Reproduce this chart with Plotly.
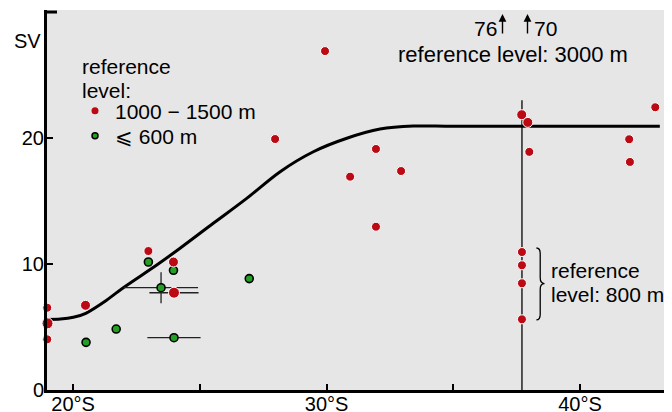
import plotly.graph_objects as go

# ---- data (latitude in deg S, transport in Sv) ----
red_lat = [18.98, 18.99, 18.98, 20.49, 22.97, 23.96, 23.98, 27.97, 29.94, 30.93, 31.95, 31.95,
           32.94, 37.70, 37.94, 38.00, 41.94, 42.97, 41.97, 37.71, 37.71, 37.71, 37.71]
red_sv = [6.53, 5.29, 4.02, 6.72, 11.03, 10.16, 7.72, 19.92, 26.9, 16.93, 19.13, 12.96,
          17.38, 21.85, 21.24, 18.9, 19.9, 22.44, 18.1, 10.95, 9.9, 8.47, 5.61]
red_size = [9, 11, 9, 10, 9, 10, 11, 9, 9, 9, 9, 9, 9, 10, 10, 9, 9, 9, 9, 9, 9, 9, 9]
red_lat_err = [0, 0, 0, 0, 0, 0, 0.97, 0, 0, 0, 0, 0, 0, 0, 0, 0, 0, 0, 0, 0, 0, 0, 0]

green_lat = [20.51, 21.70, 22.97, 23.47, 23.96, 23.98, 26.95]
green_sv = [3.78, 4.84, 10.16, 8.12, 9.50, 4.15, 8.84]
green_lat_err = [0, 0, 0, 1.46, 0, 1.05, 0]
green_sv_err = [0, 0, 0, 1.23, 0, 0, 0]

curve_lat = [18.98, 19.5, 20.01, 20.5, 21.33, 21.98, 23.3, 24.22, 25.53, 26.85, 28.17,
             29.48, 30.8, 32.11, 33.42, 35.0, 43.15]
curve_sv = [5.6, 5.63, 5.77, 6.09, 7.14, 8.12, 9.92, 11.25, 13.23, 15.21, 17.33,
            18.91, 19.98, 20.71, 20.95, 20.93, 20.93]

section_lat = [37.71, 37.71]
section_sv = [0, 23.0]

x_ticks = [20, 25, 30, 35, 40]
x_ticktext = ["20°S", "", "30°S", "", "40°S"]
y_ticks = [0, 10, 20]

RED = "#bb0a14"
GREEN = "#22a022"
FONT = "Liberation Sans, Arial, sans-serif"

# the page body has an 8 px margin: lay the figure out so the plot area lands
# at window pixels x 47..672, y 10..390
OFF = 8
W, H = 672 - OFF, 412 - OFF
ML, MR, MT, MB = 47 - OFF, 0, 10 - OFF, 22
PW, PH = W - ML - MR, H - MT - MB


def px(x):  # window pixel -> paper
    return (x - OFF - ML) / PW


def py(y):
    return (OFF + H - MB - y) / PH


fig = go.Figure()

fig.add_trace(go.Scatter(x=section_lat, y=section_sv, mode="lines",
                         line=dict(color="#222222", width=1.5), showlegend=False,
                         hoverinfo="skip"))
fig.add_trace(go.Scatter(x=curve_lat, y=curve_sv, mode="lines",
                         line=dict(color="black", width=3, shape="spline", smoothing=0.9),
                         showlegend=False))
fig.add_trace(go.Scatter(x=green_lat, y=green_sv, mode="markers",
                         marker=dict(color=GREEN, size=8, opacity=1,
                                     line=dict(color="black", width=1.6)),
                         error_x=dict(type="data", array=green_lat_err, color="#222222",
                                      thickness=1.3, width=0),
                         error_y=dict(type="data", array=green_sv_err, color="#222222",
                                      thickness=1.3, width=0),
                         showlegend=False, cliponaxis=False))
fig.add_trace(go.Scatter(x=red_lat, y=red_sv, mode="markers",
                         marker=dict(color=RED, size=red_size, opacity=1),
                         error_x=dict(type="data", array=red_lat_err, color="#222222",
                                      thickness=1.3, width=0),
                         showlegend=False, cliponaxis=False))

# legend entries (one legend per item so each can be placed)
fig.add_trace(go.Scatter(x=[None], y=[None], mode="markers", name="1000 − 1500 m",
                         marker=dict(color=RED, size=7), legend="legend"))
fig.add_trace(go.Scatter(x=[None], y=[None], mode="markers", name="⩽ 600 m",
                         marker=dict(color=GREEN, size=6, line=dict(color="black", width=1.5)),
                         legend="legend2"))

ann = []


def text(t, x, y, xanchor="left", size=21):
    ann.append(dict(text=t, x=px(x), y=py(y), xref="paper", yref="paper", showarrow=False,
                    xanchor=xanchor, yanchor="middle", font=dict(size=size, color="black",
                                                                 family=FONT)))


text("SV", 27, 41, "center", 20)
text("reference", 80, 66)
text("level:", 80, 90)
text("reference level: 3000 m", 513, 54, "center", 22)
text("76", 499, 28, "right")
text("70", 532, 28, "left")
text("reference", 549, 270)
text("level: 800 m", 549, 294)

for ax_px in (502.5, 527.5):
    ann.append(dict(text="", x=px(ax_px), y=py(14), xref="paper", yref="paper",
                    showarrow=True, ax=0, ay=21, arrowhead=2, arrowsize=1.1, arrowwidth=1.4,
                    arrowcolor="black", standoff=0, font=dict(size=1)))

# brace
xL, xM, xR = 38.28, 38.43, 38.60
yT, yMid, yB = 11.27, 8.45, 5.56
d = 0.45
brace = (f"M {xL},{yT} Q {xM},{yT} {xM},{yT - d} L {xM},{yMid + d} "
         f"Q {xM},{yMid} {xR},{yMid} Q {xM},{yMid} {xM},{yMid - d} "
         f"L {xM},{yB + d} Q {xM},{yB} {xL},{yB}")

shapes = [
    dict(type="path", path=brace, xref="x", yref="y", line=dict(color="black", width=1.3)),
    dict(type="line", xref="paper", yref="y", x0=0, x1=px(57), y0=30, y1=30,
         line=dict(color="black", width=3)),
]

leg_common = dict(xanchor="left", yanchor="middle", bgcolor="rgba(0,0,0,0)",
                  font=dict(size=21, family=FONT, color="black"), itemwidth=30)

fig.update_layout(
    width=W, height=H,
    margin=dict(l=ML, r=MR, t=MT, b=MB, autoexpand=False),
    paper_bgcolor="white", plot_bgcolor="#e6e6e6",
    font=dict(family=FONT, size=20, color="black"),
    xaxis=dict(range=[18.97, 43.63], tickvals=x_ticks, ticktext=x_ticktext,
               ticks="inside", ticklen=6, tickwidth=1.5, tickcolor="black",
               showline=True, linewidth=3, linecolor="black", showgrid=False,
               zeroline=False, tickfont=dict(size=20), automargin=False,
               ticklabelstandoff=-6),
    yaxis=dict(range=[0, 30.16], tickvals=y_ticks, ticks="inside", ticklen=6,
               tickwidth=1.5, tickcolor="black", showline=True, linewidth=3,
               linecolor="black", showgrid=False, zeroline=False, tickfont=dict(size=20),
               ticklabelstandoff=-4, automargin=False),
    legend=dict(x=px(75), y=py(111), **leg_common),
    legend2=dict(x=px(75), y=py(136), **leg_common),
    annotations=ann,
    shapes=shapes,
)

fig.write_html("out.html")
